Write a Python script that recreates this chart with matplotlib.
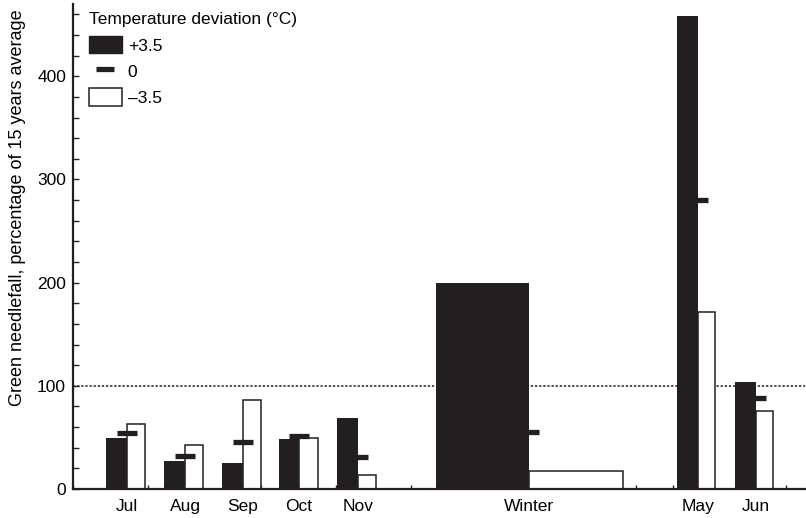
import matplotlib
matplotlib.use('Agg')
from matplotlib import pyplot as plt
from matplotlib.patches import Patch
from matplotlib.lines import Line2D
import numpy as np

plt.rcParams['font.family'] = ['Liberation Sans', 'DejaVu Sans']

# data
periods = ['Jul', 'Aug', 'Sep', 'Oct', 'Nov', 'Winter', 'May', 'Jun']
warm = [49, 27, 25.5, 48, 69, 200, 458, 104]      # +3.5 °C
normal = [54.5, 32, 46, 51, 31, 55.5, 280, 88]    # 0 °C
cold = [63, 42.5, 86, 49, 14, 17, 172, 76]        # -3.5 °C

# layout (x axis in tick units)
x_pos = [1.45, 2.99, 4.53, 6.02, 7.6, 12.16, 16.67, 18.21]
w_warm = [0.56, 0.56, 0.56, 0.52, 0.56, 2.48, 0.56, 0.56]
w_cold = [0.48, 0.48, 0.48, 0.5, 0.48, 2.5, 0.45, 0.45]
dash_w = 0.53
ink = '#231f20'
fs = 12.5

fig = plt.figure(figsize=(8.06, 5.18), dpi=100)
ax = fig.add_axes([73 / 806, 29 / 518, 732 / 806, 485 / 518])

ax.bar(x_pos, cold, width=w_cold, align='edge', color='white',
       edgecolor=ink, linewidth=1.1, zorder=2)
ax.hlines(normal, np.array(x_pos) - dash_w / 2, np.array(x_pos) + dash_w / 2,
          color=ink, linewidth=3.8, zorder=3)
ax.bar(x_pos, warm, width=[-w for w in w_warm], align='edge', color=ink,
       edgecolor=ink, linewidth=0, zorder=4)

ax.axhline(100, color=ink, linestyle=(0, (1.5, 1.2)), linewidth=1.1, zorder=1)

ax.set_xlim(0, 19.52)
ax.set_ylim(0, 470)

ax.spines['top'].set_visible(False)
ax.spines['right'].set_visible(False)
for s in ['left', 'bottom']:
    ax.spines[s].set_linewidth(1.6)
    ax.spines[s].set_color(ink)

ax.set_xticks(np.arange(0, 20))
ax.set_xticklabels([])
ax.tick_params(axis='x', which='major', direction='in', length=3, width=1, color=ink)
ax.set_xticks(x_pos, periods, minor=True)
ax.tick_params(axis='x', which='minor', length=0, pad=7, labelsize=fs)

ax.set_yticks([0, 100, 200, 300, 400])
ax.set_yticks(np.arange(0, 470, 20), minor=True)
ax.tick_params(axis='y', which='both', direction='in', length=4, width=1,
               color=ink, labelsize=fs, pad=5)

ax.set_ylabel('Green needlefall, percentage of 15 years average', fontsize=13)
ax.yaxis.set_label_coords(-0.064, 0.58)

handles = [
    Patch(facecolor=ink, edgecolor=ink),
    Line2D([], [], color=ink, marker='_', linestyle='none', markersize=13, markeredgewidth=3.8),
    Patch(facecolor='white', edgecolor=ink, linewidth=1.1),
]
leg = ax.legend(handles, ['+3.5', '0', '\u20133.5'], title='Temperature deviation (\u00b0C)',
                loc='upper left', bbox_to_anchor=(0.0, 1.015), frameon=False,
                fontsize=fs, title_fontsize=fs, handlelength=1.9, handleheight=1.15,
                handletextpad=0.35, labelspacing=0.5, alignment='left',
                borderaxespad=0.5)

fig.savefig('out.png', dpi=100)
